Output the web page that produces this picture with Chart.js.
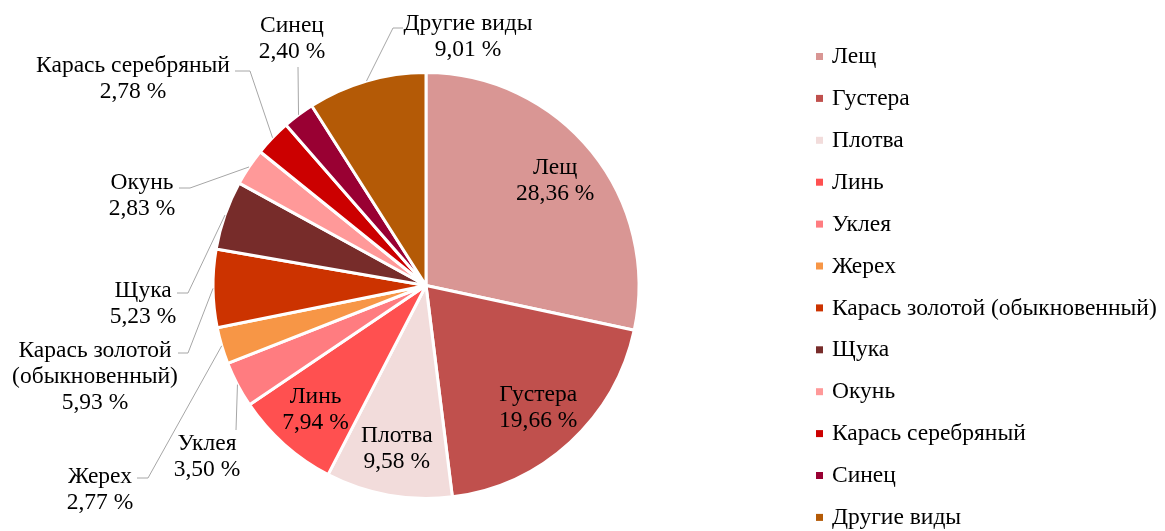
<!DOCTYPE html>
<html>
<head>
<meta charset="utf-8">
<script src="https://cdn.jsdelivr.net/npm/chart.js@4/dist/chart.umd.min.js"></script>
<style>
  html, body { margin: 0; padding: 0; background: #fff; }
  canvas { display: block; }
</style>
</head>
<body>
<canvas id="fishChart" width="1165" height="531"></canvas>
<script>
// data
const species = ['Лещ', 'Густера', 'Плотва', 'Линь', 'Уклея', 'Жерех',
  'Карась золотой (обыкновенный)', 'Щука', 'Окунь', 'Карась серебряный', 'Синец', 'Другие виды'];
const shares = [28.36, 19.66, 9.58, 7.94, 3.50, 2.77, 5.93, 5.23, 2.83, 2.78, 2.40, 9.01];
const colors = ['#D99694', '#C0504D', '#F2DCDB', '#FF5050', '#FF7C80', '#F79646',
  '#CC3300', '#772C2A', '#FF9999', '#CC0000', '#990033', '#B45A06'];

// where the outside labels sit (text centre, first line) and their leader elbows
const outsideLabels = {
  4:  { x: 207, y: 444, path: [[236, 430]] },
  5:  { x: 100, y: 477, path: [[137, 478], [148, 478]] },
  6:  { x: 95,  y: 351, path: [[178, 353], [188, 353]], wrap: true },
  7:  { x: 143, y: 291, path: [[177, 293], [188, 293]] },
  8:  { x: 142, y: 183, path: [[179, 188], [190, 188]] },
  9:  { x: 133, y: 66,  path: [[235, 71], [250, 71]] },
  10: { x: 292, y: 26,  path: [[298, 67]] },
  11: { x: 468, y: 24,  path: [[403, 28], [393, 28]] }
};

const FONT = '23.5px "Liberation Serif", "Times New Roman", serif';
const LINE_H = 26;

const fmt = v => v.toFixed(2).replace('.', ',') + ' %';

const pieLabels = {
  id: 'pieLabels',
  afterDatasetsDraw(chart) {
    const ctx = chart.ctx;
    const arcs = chart.getDatasetMeta(0).data;
    ctx.save();
    ctx.font = FONT;
    ctx.textAlign = 'center';
    ctx.textBaseline = 'middle';
    arcs.forEach((arc, i) => {
      const mid = (arc.startAngle + arc.endAngle) / 2;
      let lines = [species[i]];
      const lay = outsideLabels[i];
      if (lay && lay.wrap) {
        const k = species[i].indexOf(' (');
        lines = [species[i].slice(0, k), species[i].slice(k + 1)];
      }
      lines.push(fmt(shares[i]));
      let x, y;
      if (lay) {
        // leader line from label to the slice edge
        const ex = arc.x + Math.cos(mid) * arc.outerRadius;
        const ey = arc.y + Math.sin(mid) * arc.outerRadius;
        ctx.strokeStyle = '#A6A6A6';
        ctx.lineWidth = 1;
        ctx.beginPath();
        lay.path.forEach((p, j) => j ? ctx.lineTo(p[0], p[1]) : ctx.moveTo(p[0], p[1]));
        ctx.lineTo(ex, ey);
        ctx.stroke();
        x = lay.x; y = lay.y;
      } else {
        const r = arc.outerRadius * 0.78;
        x = arc.x + Math.cos(mid) * r;
        y = arc.y + Math.sin(mid) * r - (lines.length - 1) * LINE_H / 2;
      }
      ctx.fillStyle = '#000';
      lines.forEach((t, j) => ctx.fillText(t, x, y + j * LINE_H));
    });
    ctx.restore();
  }
};

const sideLegend = {
  id: 'sideLegend',
  afterDraw(chart) {
    const ctx = chart.ctx;
    ctx.save();
    ctx.font = FONT;
    ctx.textAlign = 'left';
    ctx.textBaseline = 'middle';
    species.forEach((name, i) => {
      const y = 57 + i * 41.9;
      ctx.fillStyle = colors[i];
      ctx.fillRect(816, y - 4, 7, 7);
      ctx.fillStyle = '#000';
      ctx.fillText(name, 832, y);
    });
    ctx.restore();
  }
};

new Chart(document.getElementById('fishChart'), {
  type: 'pie',
  data: {
    labels: species,
    datasets: [{
      data: shares,
      backgroundColor: colors,
      borderColor: '#FFFFFF',
      borderWidth: 3
    }]
  },
  options: {
    responsive: false,
    animation: false,
    layout: { padding: { left: 211.5, top: 71, right: 524.5, bottom: 31 } },
    plugins: {
      legend: { display: false },
      tooltip: { enabled: false }
    }
  },
  plugins: [pieLabels, sideLegend]
});
</script>
</body>
</html>
